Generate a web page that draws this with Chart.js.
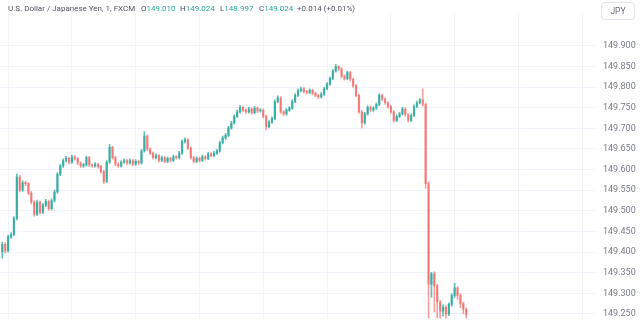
<!DOCTYPE html>
<html>
<head>
<meta charset="utf-8">
<script src="https://cdn.jsdelivr.net/npm/chart.js@4.4.1/dist/chart.umd.min.js"></script>
<style>
  html, body { margin: 0; padding: 0; background: #ffffff; }
  #wrap { position: relative; width: 640px; height: 330px; overflow: hidden; }
  #c { position: absolute; left: 0; top: 0; }
  #hdr span.g { position: absolute; top: 3px; font: 8px Roboto, "Noto Sans", sans-serif; color: #50535e; white-space: nowrap; line-height: 12px; }
  #hdr .v { color: #2aa996; }
  #cur { position: absolute; left: 601px; top: 2px; width: 34px; height: 18px; border: 1px solid #e0e3eb; border-radius: 4px; box-sizing: border-box; font: 8.5px Roboto, "Noto Sans", sans-serif; color: #6a6d78; text-align: center; line-height: 16px; background: #fff; }
</style>
</head>
<body>
<div id="wrap">
  <canvas id="c" width="640" height="330"></canvas>
  <div id="hdr">
    <span class="g" style="left:8px">U.S. Dollar / Japanese Yen, 1, FXCM</span>
    <span class="g" style="left:141px">O<span class="v">149.010</span></span>
    <span class="g" style="left:180px">H<span class="v">149.024</span></span>
    <span class="g" style="left:220px">L<span class="v">148.997</span></span>
    <span class="g" style="left:259px">C<span class="v">149.024</span></span>
    <span class="g v" style="left:297px">+0.014 (+0.01%)</span>
  </div>
  <div id="cur">JPY</div>
</div>
<script>
// ---- data (1-minute candles, USD/JPY FXCM) ----
const startMinute = 9;
const opens = [
149.401,149.419,149.403,149.437,149.442,149.482,149.582,149.550,149.568,149.566,
149.543,149.521,149.491,149.521,149.496,149.514,149.523,149.505,149.525,149.546,
149.589,149.609,149.622,149.627,149.618,149.631,149.627,149.616,149.609,149.611,
149.629,149.611,149.609,149.613,149.607,149.595,149.571,149.618,149.654,149.629,
149.613,149.609,149.618,149.622,149.616,149.622,149.613,149.620,149.616,149.645,
149.681,149.650,149.640,149.629,149.634,149.622,149.629,149.620,149.627,149.622,
149.631,149.629,149.640,149.668,149.672,149.652,149.629,149.620,149.627,149.622,
149.631,149.627,149.638,149.634,149.640,149.645,149.665,149.677,149.683,149.701,
149.713,149.729,149.740,149.751,149.744,149.740,149.747,149.738,149.749,149.742,
149.744,149.729,149.704,149.715,149.724,149.765,149.774,149.740,149.735,149.744,
149.749,149.765,149.780,149.792,149.796,149.789,149.787,149.792,149.785,149.780,
149.776,149.783,149.796,149.807,149.821,149.839,149.850,149.844,149.826,149.821,
149.835,149.819,149.803,149.780,149.740,149.713,149.735,149.751,149.744,149.749,
149.758,149.780,149.771,149.762,149.753,149.740,149.719,149.729,149.735,149.747,
149.733,149.719,149.731,149.753,149.762,149.769,149.758,149.566,149.322,149.347,
149.318,149.279,149.257,149.266,149.250,149.273,149.295,149.313,149.295,149.275,
149.261];
const highs = [
149.424,149.423,149.441,149.447,149.486,149.589,149.586,149.573,149.572,149.569,
149.547,149.525,149.526,149.524,149.518,149.528,149.526,149.529,149.550,149.593,
149.613,149.626,149.632,149.630,149.635,149.634,149.629,149.619,149.615,149.633,
149.632,149.614,149.617,149.616,149.610,149.598,149.622,149.661,149.657,149.632,
149.617,149.622,149.626,149.625,149.626,149.625,149.624,149.623,149.649,149.692,
149.684,149.653,149.643,149.638,149.637,149.633,149.632,149.631,149.630,149.635,
149.634,149.644,149.672,149.677,149.675,149.655,149.632,149.631,149.630,149.635,
149.634,149.642,149.641,149.644,149.649,149.669,149.681,149.688,149.705,149.717,
149.733,149.744,149.756,149.754,149.747,149.751,149.750,149.753,149.752,149.748,
149.747,149.732,149.719,149.728,149.769,149.779,149.777,149.743,149.748,149.753,
149.769,149.784,149.796,149.800,149.799,149.792,149.796,149.795,149.788,149.783,
149.787,149.800,149.811,149.825,149.843,149.855,149.853,149.847,149.830,149.839,
149.838,149.822,149.806,149.783,149.743,149.739,149.755,149.754,149.753,149.762,
149.784,149.783,149.774,149.765,149.756,149.743,149.733,149.739,149.751,149.750,
149.736,149.735,149.757,149.766,149.773,149.796,149.761,149.570,149.351,149.352,
149.322,149.283,149.272,149.270,149.277,149.299,149.324,149.316,149.299,149.279,
149.265];
const lows = [
149.385,149.398,149.400,149.433,149.439,149.478,149.546,149.547,149.561,149.539,
149.517,149.487,149.488,149.492,149.493,149.510,149.501,149.502,149.521,149.543,
149.585,149.605,149.618,149.614,149.615,149.623,149.612,149.605,149.605,149.608,
149.607,149.605,149.606,149.603,149.591,149.566,149.568,149.615,149.625,149.609,
149.605,149.606,149.615,149.612,149.613,149.609,149.610,149.612,149.613,149.642,
149.646,149.636,149.625,149.626,149.618,149.619,149.616,149.617,149.618,149.619,
149.625,149.626,149.637,149.664,149.648,149.625,149.616,149.617,149.618,149.619,
149.623,149.624,149.630,149.631,149.637,149.642,149.662,149.673,149.680,149.698,
149.710,149.726,149.737,149.740,149.736,149.737,149.734,149.735,149.738,149.739,
149.725,149.697,149.701,149.712,149.721,149.762,149.736,149.731,149.732,149.741,
149.746,149.762,149.777,149.788,149.785,149.783,149.784,149.781,149.776,149.772,
149.773,149.780,149.793,149.804,149.818,149.836,149.840,149.822,149.817,149.818,
149.815,149.799,149.776,149.736,149.701,149.710,149.732,149.740,149.741,149.746,
149.755,149.767,149.758,149.749,149.736,149.715,149.716,149.726,149.732,149.729,
149.715,149.716,149.728,149.750,149.759,149.754,149.555,149.200,149.290,149.255,
149.240,149.230,149.245,149.232,149.246,149.268,149.290,149.285,149.265,149.250,
149.230];
const closes = [
149.419,149.403,149.437,149.442,149.482,149.582,149.550,149.568,149.566,149.543,
149.521,149.491,149.521,149.496,149.514,149.523,149.505,149.525,149.546,149.589,
149.609,149.622,149.627,149.618,149.631,149.627,149.616,149.609,149.611,149.629,
149.611,149.609,149.613,149.607,149.595,149.571,149.618,149.654,149.629,149.613,
149.609,149.618,149.622,149.616,149.622,149.613,149.620,149.616,149.645,149.681,
149.650,149.640,149.629,149.634,149.622,149.629,149.620,149.627,149.622,149.631,
149.629,149.640,149.668,149.672,149.652,149.629,149.620,149.627,149.622,149.631,
149.627,149.638,149.634,149.640,149.645,149.665,149.677,149.683,149.701,149.713,
149.729,149.740,149.751,149.744,149.740,149.747,149.738,149.749,149.742,149.744,
149.729,149.704,149.715,149.724,149.765,149.774,149.740,149.735,149.744,149.749,
149.765,149.780,149.792,149.796,149.789,149.787,149.792,149.785,149.780,149.776,
149.783,149.796,149.807,149.821,149.839,149.850,149.844,149.826,149.821,149.835,
149.819,149.803,149.780,149.740,149.713,149.735,149.751,149.744,149.749,149.758,
149.780,149.771,149.762,149.753,149.740,149.719,149.729,149.735,149.747,149.733,
149.719,149.731,149.753,149.762,149.769,149.758,149.566,149.322,149.347,149.318,
149.279,149.257,149.266,149.250,149.273,149.295,149.313,149.295,149.275,149.261,
149.248];
const priceTicks = [149.25,149.30,149.35,149.40,149.45,149.50,149.55,149.60,149.65,149.70,149.75,149.80,149.85,149.90];

// ---- build library tables ----
const UP = 'rgba(38,166,154,0.72)';
const DOWN = 'rgba(239,83,80,0.55)';
const colors = closes.map((c, i) => c >= opens[i] ? UP : DOWN);
const wickData = highs.map((h, i) => ({ x: startMinute + i, y: [lows[i], h] }));
const bodyData = closes.map((c, i) => ({ x: startMinute + i, y: [Math.min(opens[i], c), Math.max(opens[i], c)] }));

new Chart(document.getElementById('c'), {
  type: 'bar',
  data: {
    datasets: [
      { data: wickData, backgroundColor: colors, barThickness: 1, grouped: false, borderWidth: 0 },
      { data: bodyData, backgroundColor: colors, barThickness: 1.6, grouped: false, borderWidth: 0, minBarLength: 1 }
    ]
  },
  options: {
    responsive: false,
    animation: false,
    devicePixelRatio: 1,
    layout: { padding: 0 },
    plugins: { legend: { display: false }, tooltip: { enabled: false } },
    scales: {
      x: {
        type: 'linear',
        min: 8.2,
        max: 214.1,
        offset: false,
        ticks: { display: false, stepSize: 22, includeBounds: false },
        grid: { color: '#f0f3fa', drawTicks: false },
        border: { display: false },
        afterFit: s => { s.height = 0; }
      },
      y: {
        position: 'right',
        min: 149.2387,
        max: 149.9835,
        afterBuildTicks: s => { s.ticks = priceTicks.map(v => ({ value: v })); },
        ticks: {
          padding: 6,
          color: '#787b86',
          font: { family: 'Roboto', size: 9 },
          callback: v => v.toFixed(3)
        },
        grid: { color: '#f0f3fa', drawTicks: false },
        border: { display: false },
        afterFit: s => { s.width = 43; }
      }
    }
  }
});
</script>
</body>
</html>
